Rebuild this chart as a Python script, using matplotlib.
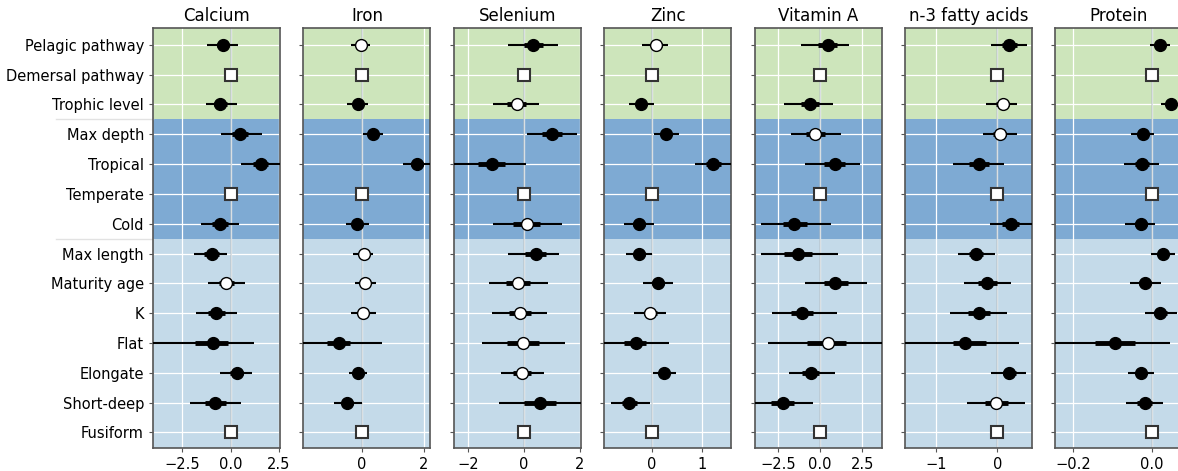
import numpy as np
import matplotlib
matplotlib.use("Agg")
import matplotlib.pyplot as plt

# —— data —— #
rows = ["Pelagic pathway", "Demersal pathway", "Trophic level", "Max depth",
        "Tropical", "Temperate", "Cold", "Max length", "Maturity age", "K",
        "Flat", "Elongate", "Short-deep", "Fusiform"]
reference_rows = [1, 5, 13]          # baseline levels (squares at 0)

nutrients = ["Calcium", "Iron", "Selenium", "Zinc", "Vitamin A",
             "n-3 fatty acids", "Protein"]

# each row: (mean, outer lo, outer hi, inner lo, inner hi); None = reference level
calcium = [(-0.41, -1.21, 0.39, -0.72, -0.10), None, (-0.52, -1.28, 0.34, -0.85, -0.20),
           (0.48, -0.47, 1.60, 0.10, 0.90), (1.55, 0.52, 2.70, 1.15, 1.95), None,
           (-0.55, -1.50, 0.45, -0.95, -0.15), (-0.98, -1.89, -0.16, -1.35, -0.62),
           (-0.21, -1.16, 0.74, -0.60, 0.18), (-0.73, -1.80, 0.31, -1.15, -0.30),
           (-0.93, -4.20, 1.22, -1.85, -0.12), (0.31, -0.52, 1.09, -0.02, 0.63),
           (-0.81, -2.11, 0.52, -1.33, -0.24), None]
iron = [(-0.05, -0.35, 0.25, -0.17, 0.07), None, (-0.15, -0.49, 0.20, -0.29, -0.01),
        (0.36, 0.03, 0.69, 0.22, 0.50), (1.78, 1.32, 2.30, 1.58, 1.98), None,
        (-0.18, -0.53, 0.23, -0.34, -0.01), (0.06, -0.30, 0.36, -0.08, 0.19),
        (0.10, -0.24, 0.45, -0.04, 0.24), (0.03, -0.35, 0.44, -0.13, 0.19),
        (-0.76, -2.00, 0.64, -1.15, -0.38), (-0.13, -0.43, 0.16, -0.25, -0.01),
        (-0.48, -0.93, -0.02, -0.66, -0.30), None]
selenium = [(0.33, -0.57, 1.20, -0.02, 0.68), None, (-0.27, -1.11, 0.54, -0.60, 0.06),
            (0.99, 0.11, 1.90, 0.63, 1.35), (-1.16, -2.60, 0.06, -1.65, -0.69), None,
            (0.09, -1.11, 1.34, -0.40, 0.58), (0.41, -0.57, 1.26, 0.03, 0.77),
            (-0.23, -1.25, 0.86, -0.65, 0.20), (-0.15, -1.16, 0.83, -0.55, 0.25),
            (-0.05, -1.50, 1.46, -0.62, 0.52), (-0.08, -0.84, 0.72, -0.40, 0.24),
            (0.57, -0.89, 2.10, 0.00, 1.13), None]
zinc = [(0.09, -0.19, 0.32, -0.02, 0.20), None, (-0.21, -0.45, 0.05, -0.31, -0.11),
        (0.29, 0.05, 0.55, 0.19, 0.39), (1.23, 0.87, 1.65, 1.08, 1.38), None,
        (-0.25, -0.55, 0.05, -0.37, -0.13), (-0.25, -0.52, 0.01, -0.36, -0.14),
        (0.13, -0.18, 0.43, 0.01, 0.25), (-0.03, -0.35, 0.29, -0.16, 0.10),
        (-0.32, -1.00, 0.35, -0.55, -0.12), (0.25, 0.02, 0.48, 0.16, 0.34),
        (-0.45, -0.82, -0.03, -0.60, -0.29), None]
vitamin_a = [(0.44, -1.16, 1.74, -0.15, 1.00), None, (-0.60, -2.14, 0.74, -1.15, -0.05),
             (-0.30, -1.75, 1.24, -0.85, 0.30), (0.90, -0.90, 2.36, 0.25, 1.50), None,
             (-1.54, -3.49, 0.64, -2.20, -0.76), (-1.30, -3.49, 1.06, -2.14, -0.50),
             (0.90, -0.90, 2.80, 0.20, 1.63), (-1.10, -2.84, 1.00, -1.75, -0.40),
             (0.44, -3.13, 3.80, -0.76, 1.56), (-0.56, -1.86, 0.90, -1.10, -0.05),
             (-2.24, -4.00, -0.44, -2.94, -1.56), None]
n3_fatty = [(0.20, -0.10, 0.48, 0.08, 0.32), None, (0.09, -0.18, 0.33, -0.02, 0.20),
            (0.04, -0.24, 0.32, -0.07, 0.15), (-0.30, -0.72, 0.11, -0.46, -0.14), None,
            (0.22, -0.12, 0.60, 0.08, 0.36), (-0.35, -0.65, -0.04, -0.47, -0.23),
            (-0.16, -0.55, 0.23, -0.31, -0.01), (-0.30, -0.77, 0.16, -0.48, -0.12),
            (-0.53, -1.60, 0.36, -0.72, -0.18), (0.20, -0.10, 0.47, 0.09, 0.31),
            (-0.02, -0.49, 0.45, -0.20, 0.17), None]
protein = [(0.019, -0.006, 0.046, 0.009, 0.030), None, (0.049, 0.024, 0.075, 0.039, 0.060),
           (-0.023, -0.053, 0.006, -0.035, -0.011), (-0.025, -0.072, 0.017, -0.042, -0.008), None,
           (-0.029, -0.068, 0.008, -0.044, -0.014), (0.028, -0.003, 0.059, 0.016, 0.040),
           (-0.017, -0.055, 0.024, -0.032, -0.002), (0.021, -0.019, 0.063, 0.005, 0.037),
           (-0.093, -0.260, 0.046, -0.145, -0.042), (-0.028, -0.061, 0.004, -0.041, -0.015),
           (-0.019, -0.066, 0.029, -0.038, 0.000), None]

# rows drawn as open circles (per nutrient)
open_rows = [[8], [0, 7, 8, 9], [2, 6, 8, 9, 10, 11], [0, 9], [3, 10], [2, 3, 12], []]

xlims = [(-4.0, 2.55), (-1.91, 2.22), (-2.52, 2.03), (-0.95, 1.59),
         (-3.9, 3.65), (-1.51, 0.57), (-0.245, 0.077)]
xticks = [[-2.5, 0, 2.5], [0, 2], [-2, 0, 2], [0, 1], [-2.5, 0, 2.5], [-1, 0], [-0.2, 0.0]]

# background bands: (first row, last row, colour)
bands = [(-0.6, 2.5, "#cde5bb"), (2.5, 6.5, "#7eaad3"), (6.5, 13.6, "#c4dae9")]

all_data = [calcium, iron, selenium, zinc, vitamin_a, n3_fatty, protein]

W, H = 1178, 471
fig = plt.figure(figsize=(W / 100, H / 100), dpi=100)

for i, (name, data) in enumerate(zip(nutrients, all_data)):
    left = (153 + i * 150.4) / W
    ax = fig.add_axes([left, 23 / H, 127 / W, 420 / H])

    for y0, y1, col in bands:
        ax.axhspan(y0, y1, color=col, zorder=0, lw=0)

    ax.set_axisbelow(True)
    ax.grid(True, color="white", lw=0.9, zorder=1)
    ax.axvline(0, color="#a9b4bc", lw=1.2, alpha=0.5, zorder=1)

    for r, row in enumerate(data):
        if row is None:
            ax.plot(0, r, marker="s", ms=8, mfc="white", mec="#333333",
                    mew=1.5, zorder=5)
            continue
        m, lo, hi, ilo, ihi = row
        ax.plot([lo, hi], [r, r], color="black", lw=1.5, zorder=3,
                solid_capstyle="butt")
        ax.plot([ilo, ihi], [r, r], color="black", lw=3.5, zorder=3,
                solid_capstyle="butt")
        face = "white" if r in open_rows[i] else "black"
        ax.plot(m, r, marker="o", ms=8.5, mfc=face, mec="black", mew=1.0,
                zorder=4)

    ax.set_xlim(*xlims[i])
    ax.set_ylim(13.52, -0.56)
    ax.set_yticks(range(len(rows)))
    ax.set_xticks(xticks[i])
    ax.tick_params(axis="both", length=3, color="#555555", labelsize=10.5)
    if i == 0:
        ax.set_yticklabels(rows)
        # faint separators reaching into label area
        for yb in (2.5, 6.5):
            ax.plot([-0.76, 0], [yb, yb], transform=ax.get_yaxis_transform(),
                    color="#e2e2e2", lw=1.0, clip_on=False, zorder=0)
    else:
        ax.set_yticklabels([])
    for sp in ax.spines.values():
        sp.set_color("#555555")
        sp.set_linewidth(1.2)
    ax.set_title(name, fontsize=12, pad=5)

fig.savefig("out.png", dpi=100)
